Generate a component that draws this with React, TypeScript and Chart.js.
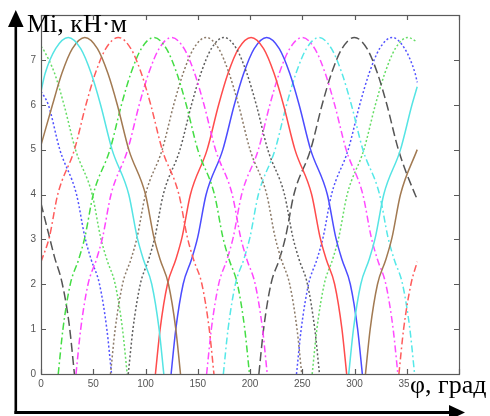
import React, { useEffect, useRef } from "react";
import { Chart, registerables } from "chart.js";

Chart.register(...registerables);

type P = [number, number | null];

// Axis ticks and labels
const X_TICKS = [0, 50, 100, 150, 200, 250, 300, 350, 400];
const X_LABELS = ["0", "50", "100", "150", "200", "250", "300", "350", ""];
const Y_TICKS = [0, 1, 2, 3, 4, 5, 6, 7, 8];
const Y_LABELS = ["0", "1", "2", "3", "4", "5", "6", "7", ""];
const Y_TITLE = "Mi, кН·м";
const X_TITLE = "φ, град";

// Series: [φ, M] (null = break where the curve wraps 360° → 0°)
const CYAN_SOLID: P[] = [
  [0, 6.3], [4, 6.7], [14, 7.25], [26, 7.5], [38, 7.25], [48, 6.7], [57, 6.0], [68, 5.0], [84, 4.0],
  [92, 3.05], [98, 2.55], [106, 2.0], [113, 1.0], [117.5, 0], [200, null],
  [294.5, 0], [299, 1.0], [306, 2.0], [314, 2.55], [320, 3.05], [328, 4.0], [344, 5.0], [355, 6.0], [360, 6.4],
];
const BROWN_SOLID: P[] = [
  [0, 5.1], [11, 6.0], [20, 6.7], [30, 7.25], [42, 7.5], [54, 7.25], [64, 6.7], [73, 6.0], [84, 5.0],
  [100, 4.0], [108, 3.05], [114, 2.55], [122, 2.0], [129, 1.0], [133.5, 0], [200, null],
  [310.5, 0], [315, 1.0], [322, 2.0], [330, 2.55], [336, 3.05], [344, 4.0], [360, 5.0],
];
const RED_DASHDOT: P[] = [
  [0, 2.5], [8, 3.05], [16, 4.0], [32, 5.0], [43, 6.0], [52, 6.7], [62, 7.25], [74, 7.5], [86, 7.25],
  [96, 6.7], [105, 6.0], [116, 5.0], [132, 4.0], [140, 3.05], [146, 2.55], [154, 2.0], [161, 1.0], [165.5, 0],
  [250, null], [342.5, 0], [347, 1.0], [354, 2.0], [360, 2.5],
];
const GREEN_DASHDOT: P[] = [
  [16.5, 0], [21, 1], [28, 2], [36, 2.55], [42, 3.05], [50, 4], [66, 5], [77, 6], [86, 6.7], [96, 7.25],
  [108, 7.5], [120, 7.25], [130, 6.7], [139, 6], [150, 5], [166, 4], [174, 3.05], [180, 2.55], [188, 2],
  [195, 1], [199.5, 0],
];
const MAGENTA_DASHDOT_A: P[] = [
  [33.5, 0], [38, 1], [45, 2], [53, 2.55], [59, 3.05], [67, 4], [83, 5], [94, 6], [103, 6.7], [113, 7.25],
  [125, 7.5], [137, 7.25], [147, 6.7], [156, 6], [167, 5], [183, 4], [191, 3.05], [197, 2.55], [205, 2],
  [212, 1], [216.5, 0],
];
const BROWN_DOTTED: P[] = [
  [66.5, 0], [71, 1], [78, 2], [86, 2.55], [92, 3.05], [100, 4], [116, 5], [127, 6], [136, 6.7], [146, 7.25],
  [158, 7.5], [170, 7.25], [180, 6.7], [189, 6], [200, 5], [216, 4], [224, 3.05], [230, 2.55], [238, 2],
  [245, 1], [249.5, 0],
];
const GRAY_DOTTED: P[] = [
  [83.5, 0], [88, 1], [95, 2], [103, 2.55], [109, 3.05], [117, 4], [133, 5], [144, 6], [153, 6.7], [163, 7.25],
  [175, 7.5], [187, 7.25], [197, 6.7], [206, 6], [217, 5], [233, 4], [241, 3.05], [247, 2.55], [255, 2],
  [262, 1], [266.5, 0],
];
const RED_SOLID: P[] = [
  [109.5, 0], [114, 1], [121, 2], [129, 2.55], [135, 3.05], [143, 4], [159, 5], [170, 6], [179, 6.7], [189, 7.25],
  [201, 7.5], [213, 7.25], [223, 6.7], [232, 6], [243, 5], [259, 4], [267, 3.05], [273, 2.55], [281, 2],
  [288, 1], [292.5, 0],
];
const BLUE_SOLID: P[] = [
  [124.5, 0], [129, 1], [136, 2], [144, 2.55], [150, 3.05], [158, 4], [174, 5], [185, 6], [194, 6.7], [204, 7.25],
  [216, 7.5], [228, 7.25], [238, 6.7], [247, 6], [258, 5], [274, 4], [282, 3.05], [288, 2.55], [296, 2],
  [303, 1], [307.5, 0],
];
const MAGENTA_DASHDOT_B: P[] = [
  [158.5, 0], [163, 1], [170, 2], [178, 2.55], [184, 3.05], [192, 4], [208, 5], [219, 6], [228, 6.7], [238, 7.25],
  [250, 7.5], [262, 7.25], [272, 6.7], [281, 6], [292, 5], [308, 4], [316, 3.05], [322, 2.55], [330, 2],
  [337, 1], [341.5, 0],
];
const CYAN_DASHDOT: P[] = [
  [174.5, 0], [179, 1], [186, 2], [194, 2.55], [200, 3.05], [208, 4], [224, 5], [235, 6], [244, 6.7], [254, 7.25],
  [266, 7.5], [278, 7.25], [288, 6.7], [297, 6], [308, 5], [324, 4], [332, 3.05], [338, 2.55], [346, 2],
  [353, 1], [357.5, 0],
];
const BLACK_DASHED: P[] = [
  [0, 3.8], [7, 3.15], [13, 2.6], [20, 2.05], [27, 1.1], [32, 0], [100, null],
  [208.5, 0], [213, 1], [220, 2], [228, 2.55], [234, 3.05], [242, 4], [258, 5], [269, 6], [278, 6.7],
  [288, 7.25], [300, 7.5], [312, 7.25], [322, 6.7], [331, 6], [342, 5], [358, 4], [360, 3.9],
];
const BLUE_DOTTED: P[] = [
  [0, 6.3], [7, 6.0], [18, 5.0], [34, 4.0], [42, 3.05], [48, 2.55], [56, 2.0], [63, 1.0], [67.5, 0], [150, null],
  [244.5, 0], [249, 1], [256, 2], [264, 2.55], [270, 3.05], [278, 4], [294, 5], [305, 6], [314, 6.7],
  [324, 7.25], [336, 7.5], [348, 7.25], [358, 6.7], [360, 6.5],
];
const GREEN_DOTTED: P[] = [
  [0, 7.3], [3, 7.2], [13, 6.7], [22, 6.0], [33, 5.0], [49, 4.0], [57, 3.05], [63, 2.55], [71, 2.0], [78, 1.0],
  [82.5, 0], [170, null],
  [259.5, 0], [264, 1], [271, 2], [279, 2.55], [285, 3.05], [293, 4], [309, 5], [320, 6], [329, 6.7],
  [339, 7.25], [351, 7.5], [360, 7.4],
];

const SOLID: number[] = [];
const DOT = [2, 2.2];
const DASHDOT = [7, 3, 1.8, 3];
const DASH = [9, 4];

const SERIES: { data: P[]; color: string; dash: number[] }[] = [
  { data: CYAN_SOLID, color: "#55e4e4", dash: SOLID },
  { data: BROWN_SOLID, color: "#a27a52", dash: SOLID },
  { data: RED_DASHDOT, color: "#ff5c5c", dash: DASHDOT },
  { data: GREEN_DASHDOT, color: "#44dd44", dash: DASHDOT },
  { data: MAGENTA_DASHDOT_A, color: "#ff44ff", dash: DASHDOT },
  { data: BROWN_DOTTED, color: "#8c7a68", dash: DOT },
  { data: GRAY_DOTTED, color: "#5e5e5e", dash: DOT },
  { data: RED_SOLID, color: "#ff4c4c", dash: SOLID },
  { data: BLUE_SOLID, color: "#4c4cff", dash: SOLID },
  { data: MAGENTA_DASHDOT_B, color: "#ff4cff", dash: DASHDOT },
  { data: CYAN_DASHDOT, color: "#55e8e8", dash: DASHDOT },
  { data: BLACK_DASHED, color: "#555555", dash: DASH },
  { data: BLUE_DOTTED, color: "#5252ff", dash: DOT },
  { data: GREEN_DOTTED, color: "#66dd66", dash: DOT },
];

const framePlugin = {
  id: "matlabFrame",
  afterDraw(chart: any) {
    const ctx: CanvasRenderingContext2D = chart.ctx;
    const { left, right, top, bottom } = chart.chartArea;
    const xs = chart.scales.x;
    const ys = chart.scales.y;
    ctx.save();
    // box
    ctx.strokeStyle = "#5a5a5a";
    ctx.lineWidth = 1.2;
    ctx.strokeRect(left + 0.5, top + 0.5, right - left, bottom - top);
    // ticks
    ctx.beginPath();
    X_TICKS.forEach((v) => {
      const px = Math.round(xs.getPixelForValue(v)) + 0.5;
      ctx.moveTo(px, bottom);
      ctx.lineTo(px, bottom - 5);
      ctx.moveTo(px, top);
      ctx.lineTo(px, top + 5);
    });
    Y_TICKS.forEach((v) => {
      const py = Math.round(ys.getPixelForValue(v)) + 0.5;
      ctx.moveTo(left, py);
      ctx.lineTo(left + 5, py);
      ctx.moveTo(right, py);
      ctx.lineTo(right - 5, py);
    });
    ctx.stroke();
    // tick labels
    ctx.fillStyle = "#555";
    ctx.font = "10px 'Liberation Sans', Arial, sans-serif";
    ctx.textAlign = "center";
    ctx.textBaseline = "top";
    X_TICKS.forEach((v, i) => {
      ctx.fillText(X_LABELS[i], xs.getPixelForValue(v), bottom + 5);
    });
    ctx.textAlign = "right";
    ctx.textBaseline = "middle";
    Y_TICKS.forEach((v, i) => {
      ctx.fillText(Y_LABELS[i], left - 5, ys.getPixelForValue(v));
    });
    // big arrows
    ctx.fillStyle = "#000";
    ctx.strokeStyle = "#000";
    ctx.lineWidth = 2.6;
    ctx.beginPath();
    ctx.moveTo(15.8, 414);
    ctx.lineTo(15.8, 24);
    ctx.stroke();
    ctx.beginPath();
    ctx.moveTo(15.8, 10);
    ctx.lineTo(8, 27);
    ctx.lineTo(23.6, 27);
    ctx.closePath();
    ctx.fill();
    ctx.lineWidth = 3;
    ctx.beginPath();
    ctx.moveTo(14.5, 412.5);
    ctx.lineTo(452, 412.5);
    ctx.stroke();
    ctx.beginPath();
    ctx.moveTo(465, 412.5);
    ctx.lineTo(449, 405);
    ctx.lineTo(449, 420);
    ctx.closePath();
    ctx.fill();
    // titles
    ctx.font = "26px 'Liberation Serif', 'Times New Roman', serif";
    ctx.textAlign = "left";
    ctx.textBaseline = "alphabetic";
    const w = ctx.measureText(X_TITLE).width;
    ctx.fillStyle = "#fff";
    ctx.fillRect(409, 378, w + 2, 22);
    ctx.fillStyle = "#000";
    ctx.fillText(X_TITLE, 410, 393);
    ctx.fillText(Y_TITLE, 27, 32);
    ctx.restore();
  },
};

export default function App() {
  const ref = useRef<HTMLCanvasElement | null>(null);
  useEffect(() => {
    if (!ref.current) return;
    const chart = new Chart(ref.current, {
      type: "line",
      data: {
        datasets: SERIES.map((s) => ({
          data: s.data.map(([x, y]) => ({ x, y })),
          borderColor: s.color,
          backgroundColor: s.color,
          borderWidth: 1.5,
          borderDash: s.dash,
          pointRadius: 0,
          cubicInterpolationMode: "monotone" as const,
          spanGaps: false,
          fill: false,
        })),
      },
      options: {
        animation: false,
        responsive: false,
        devicePixelRatio: 1,
        parsing: true,
        layout: { padding: { left: 41, top: 15, right: 31, bottom: 42 } },
        plugins: { legend: { display: false }, tooltip: { enabled: false } },
        events: [],
        scales: {
          x: { type: "linear", min: 0, max: 400, display: false },
          y: { type: "linear", min: 0, max: 8, display: false },
        },
      },
      plugins: [framePlugin],
    });
    return () => chart.destroy();
  }, []);
  return (
    <div style={{ position: "absolute", left: 0, top: 0, width: 490, height: 416, background: "#fff" }}>
      <canvas ref={ref} width={490} height={416} style={{ display: "block" }} />
    </div>
  );
}
